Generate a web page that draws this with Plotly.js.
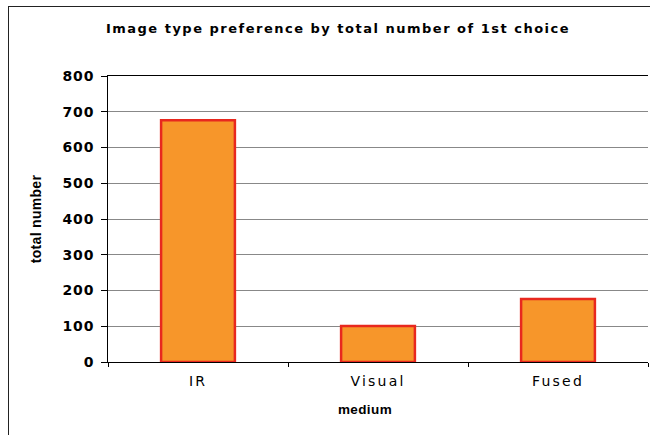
<!DOCTYPE html>
<html><head><meta charset="utf-8">
<script src="https://cdn.plot.ly/plotly-3.0.1.min.js"></script>
<style>
body{margin:0;background:#fff;overflow:hidden;}
#chart{width:650px;height:435px;}
#frame{position:absolute;left:8px;top:6px;width:700px;height:500px;border:1px solid #222;pointer-events:none;}
#chart .gtitle{letter-spacing:1.5px;}
#chart .xtick text{letter-spacing:2.2px;}
#chart .xtitle{letter-spacing:0.4px;transform:translateX(-13px);}
#chart .ytick text{letter-spacing:0.8px;}
#chart .ytitle{letter-spacing:0.3px;}
</style></head>
<body>
<div id="chart"></div>
<div id="frame"></div>
<script>
const categories = ["IR", "Visual", "Fused"];
const totals = [676, 101, 176];
const yTicks = [0, 100, 200, 300, 400, 500, 600, 700, 800];

const trace = {
  type: "bar",
  x: categories,
  y: totals,
  marker: {color: "#F7962A", line: {color: "#E8281E", width: 2.5}},
  hoverinfo: "none"
};
const layout = {
  width: 650, height: 435,
  margin: {l: 108, r: 2, t: 76, b: 73},
  paper_bgcolor: "rgba(0,0,0,0)",
  plot_bgcolor: "#fff",
  bargap: 0.59,
  showlegend: false,
  font: {family: "DejaVu Sans, sans-serif", color: "#000"},
  title: {text: "<b>Image type preference by total number of 1st choice</b>",
    font: {size: 13, family: "DejaVu Sans, sans-serif", color: "#000"},
    x: 0.52, xanchor: "center", y: 0.935, yanchor: "middle"},
  xaxis: {
    title: {text: "<b>medium</b>", font: {size: 13.5, family: "Liberation Sans, Arial, sans-serif"}, standoff: 16},
    tickfont: {size: 14},
    ticklabelstandoff: 6,
    showline: true, linecolor: "#000", linewidth: 1, mirror: true,
    ticks: "outside", tickson: "boundaries", ticklen: 4, tickcolor: "#000",
    showgrid: false
  },
  yaxis: {
    title: {text: "<b>total number</b>", font: {size: 14, family: "Liberation Sans, Arial, sans-serif"}, standoff: 20},
    range: [0, 800], tickvals: yTicks, ticktext: yTicks.map(v => "<b>" + v + "</b>"),
    tickfont: {size: 14},
    ticklabelstandoff: 4,
    showline: true, linecolor: "#000", linewidth: 1,
    ticks: "outside", ticklen: 6, tickcolor: "#000",
    showgrid: true, gridcolor: "#888", gridwidth: 1,
    zeroline: false
  }
};
Plotly.newPlot("chart", [trace], layout, {staticPlot: true});
</script>
</body></html>
